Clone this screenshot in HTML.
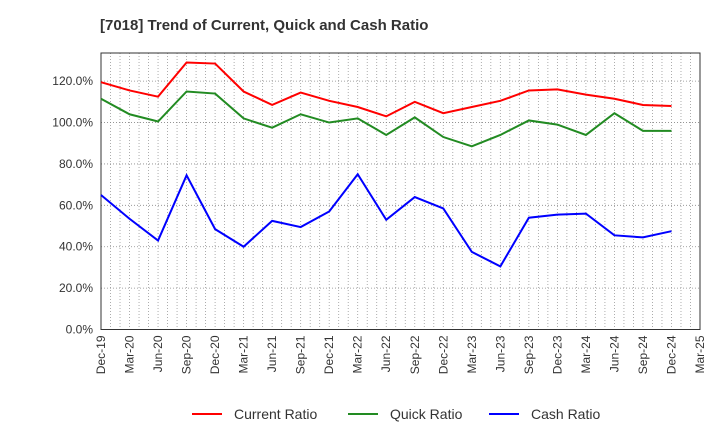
<!DOCTYPE html>
<html><head><meta charset="utf-8"><style>
body{margin:0;background:#fff;font-family:"Liberation Sans",sans-serif;}
</style></head><body>
<svg width="720" height="440" xmlns="http://www.w3.org/2000/svg">
<text x="100" y="30" font-size="15" font-weight="bold" fill="#333">[7018]  Trend of Current, Quick and Cash Ratio</text>
<g id="grid"></g><g id="axes"></g><g id="series"></g><g id="legend"></g>
</svg>
<script>
const xLabels=["Dec-19","Mar-20","Jun-20","Sep-20","Dec-20","Mar-21","Jun-21","Sep-21","Dec-21","Mar-22","Jun-22","Sep-22","Dec-22","Mar-23","Jun-23","Sep-23","Dec-23","Mar-24","Jun-24","Sep-24","Dec-24","Mar-25"];
const yTicks=[0,20,40,60,80,100,120];
const currentRatio=[119.5,115.5,112.5,129,128.5,115,108.5,114.5,110.5,107.5,103,110,104.5,107.5,110.5,115.5,116,113.5,111.5,108.5,108];
const quickRatio=[111.5,104,100.5,115,114,102,97.5,104,100,102,94,102.5,93,88.5,94,101,99,94,104.5,96,96];
const cashRatio=[65,53.5,43,74.5,48.5,40,52.5,49.5,57,75,53,64,58.5,37.5,30.5,54,55.5,56,45.5,44.5,47.5];
const NS="http://www.w3.org/2000/svg";
const L=101,R=700,T=53,B=329.5,yMax=133.6;
const xs=i=>L+i*(R-L)/(xLabels.length-1);
const ys=v=>B-v/yMax*(B-T);
function mk(tag,attrs,parent){const e=document.createElementNS(NS,tag);for(const k in attrs)e.setAttribute(k,attrs[k]);parent.appendChild(e);return e;}
const grid=document.getElementById('grid'),axes=document.getElementById('axes'),series=document.getElementById('series'),legend=document.getElementById('legend');
for(let m=1;m<(xLabels.length-1)*3;m++){const x=L+m*(R-L)/((xLabels.length-1)*3);
const g=mk('line',{x1:x,x2:x,y1:T,y2:B,stroke:'#999','stroke-dasharray':'1,2','stroke-width':0.8},grid);

}
yTicks.forEach(v=>{const y=ys(v);
if(v>0){const g=mk('line',{x1:L,x2:R,y1:y,y2:y,stroke:'#888','stroke-dasharray':'1,2','stroke-width':0.8},grid);

}
const t=mk('text',{x:L-8,y:y+4,'text-anchor':'end','font-size':12,fill:'#333'},axes);t.textContent=v.toFixed(1)+'%';

});
const fr=mk('rect',{x:L,y:T,width:R-L,height:B-T,fill:'none',stroke:'#333','stroke-width':1},axes);


xLabels.forEach((lb,i)=>{const x=xs(i);const t=mk('text',{x:x+4,y:B+6,'text-anchor':'end','font-size':12,fill:'#333',transform:`rotate(-90 ${x+4} ${B+6})`},axes);t.textContent=lb;

});
[[currentRatio,'#f00','current-ratio-line'],[quickRatio,'#228b22','quick-ratio-line'],[cashRatio,'#00f','cash-ratio-line']].forEach(([d,c,n])=>{
const p=mk('polyline',{points:d.map((v,i)=>xs(i)+','+ys(v)).join(' '),fill:'none',stroke:c,'stroke-width':2},series);

});
[['Current Ratio','#f00',192],['Quick Ratio','#228b22',348],['Cash Ratio','#00f',489]].forEach(([lb,c,x])=>{
const g=mk('g',{},legend);


mk('line',{x1:x,x2:x+30,y1:414,y2:414,stroke:c,'stroke-width':2},g);
const t=mk('text',{x:x+42,y:419,'font-size':14,fill:'#333'},g);t.textContent=lb;});
</script>
</body></html>
